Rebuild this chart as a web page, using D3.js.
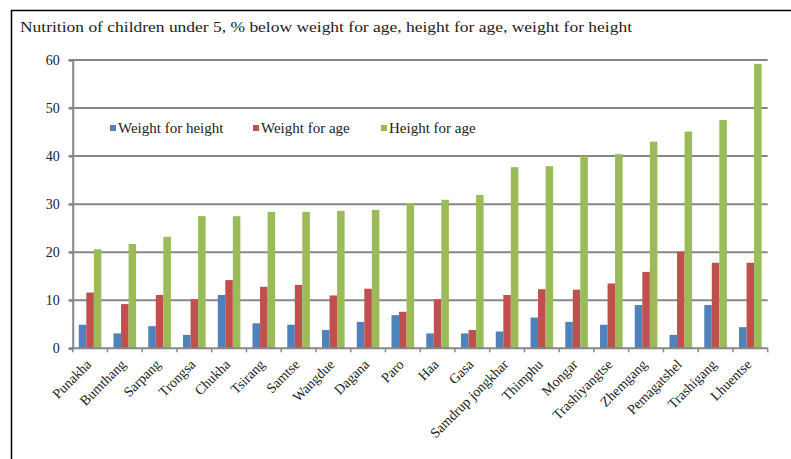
<!DOCTYPE html>
<html>
<head>
<meta charset="utf-8">
<script src="https://cdn.jsdelivr.net/npm/d3@7"></script>
<style>
  html, body { margin: 0; padding: 0; background: #fff; }
  svg { display: block; }
  text { font-family: "Liberation Serif", "DejaVu Serif", serif; fill: #222; }
</style>
</head>
<body>
<svg id="chart" width="791" height="459"></svg>
<script>
const categories = ["Punakha", "Bumthang", "Sarpang", "Trongsa", "Chukha", "Tsirang", "Samtse", "Wangdue", "Dagana", "Paro", "Haa", "Gasa", "Samdrup jongkhar", "Thimphu", "Mongar", "Trashiyangtse", "Zhemgang", "Pemagatshel", "Trashigang", "Lhuentse"];
const seriesNames = ["Weight for height", "Weight for age", "Height for age"];
const weightForHeight = [4.9, 3.1, 4.6, 2.8, 11.1, 5.2, 4.9, 3.8, 5.5, 6.9, 3.1, 3.1, 3.5, 6.4, 5.5, 4.9, 9.0, 2.8, 9.0, 4.4];
const weightForAge = [11.6, 9.2, 11.1, 10.2, 14.2, 12.8, 13.2, 11.0, 12.4, 7.6, 10.2, 3.8, 11.1, 12.3, 12.2, 13.5, 15.9, 20.1, 17.8, 17.8];
const heightForAge = [20.6, 21.7, 23.2, 27.5, 27.5, 28.4, 28.4, 28.6, 28.8, 30.2, 30.9, 31.9, 37.7, 37.9, 40.0, 40.4, 43.0, 45.1, 47.5, 59.2];
const yTicks = [0, 10, 20, 30, 40, 50, 60];
const colors = ["#4f81bd", "#c0504d", "#9bbb59"];
const titleText = "Nutrition of children under 5, % below weight for age, height for age, weight for height";

const seriesValues = [weightForHeight, weightForAge, heightForAge];
const svg = d3.select("#chart");

// frame
svg.append("line").attr("x1", 11).attr("x2", 791).attr("y1", 10.5).attr("y2", 10.5).attr("stroke", "#000").attr("stroke-width", 1.5);
svg.append("line").attr("x1", 11.5).attr("x2", 11.5).attr("y1", 10).attr("y2", 459).attr("stroke", "#000").attr("stroke-width", 1.5);

// title
svg.append("text").attr("x", 20).attr("y", 32).attr("font-size", 15.5).attr("fill", "#333")
  .attr("textLength", 612).attr("lengthAdjust", "spacingAndGlyphs").text(titleText);

const plotLeft = 72.7, plotRight = 767.7, plotTop = 60, plotBottom = 348.3;
const x0 = d3.scaleBand().domain(categories).range([plotLeft, plotRight]).paddingInner(0.35).paddingOuter(0.175);
const x1 = d3.scaleBand().domain(seriesNames).range([0, x0.bandwidth()]).padding(0);
const y = d3.scaleLinear().domain([0, 60]).range([plotBottom, plotTop]);

// gridlines
const grid = svg.append("g");
grid.selectAll("line").data(yTicks.filter(d => d > 0)).join("line")
  .attr("x1", plotLeft - 4).attr("x2", plotRight)
  .attr("y1", d => y(d)).attr("y2", d => y(d))
  .attr("stroke", "#878787").attr("stroke-width", 2);

// y axis
const yAxis = svg.append("g").attr("transform", `translate(${plotLeft},0)`)
  .call(d3.axisLeft(y).tickValues(yTicks).tickSize(4).tickPadding(9));
yAxis.select(".domain").attr("stroke", "#878787").attr("stroke-width", 2);
yAxis.selectAll(".tick line").attr("stroke", "#878787").attr("stroke-width", 2);
yAxis.selectAll("text").attr("font-size", 14).attr("fill", "#333").style("font-family", '"Liberation Serif", serif');

// bars
const groups = svg.append("g").selectAll("g").data(categories).join("g")
  .attr("transform", d => `translate(${x0(d)},0)`);
groups.selectAll("rect").data((d, i) => seriesNames.map((s, k) => ({ s, v: seriesValues[k][i], k })))
  .join("rect")
  .attr("x", d => x1(d.s))
  .attr("width", x1.bandwidth())
  .attr("y", d => y(d.v))
  .attr("height", d => y(0) - y(d.v))
  .attr("fill", d => colors[d.k]);

// x axis
const step = x0.step();
const xAxisG = svg.append("g").attr("transform", `translate(0,${plotBottom})`);
xAxisG.append("line").attr("x1", plotLeft - 4).attr("x2", plotRight).attr("stroke", "#878787").attr("stroke-width", 2);
const boundaries = d3.range(categories.length + 1).map(i => plotLeft + i * step);
xAxisG.selectAll("line.tk").data(boundaries).join("line").attr("class", "tk")
  .attr("x1", d => d).attr("x2", d => d).attr("y1", 0).attr("y2", 4)
  .attr("stroke", "#878787").attr("stroke-width", 1.5);
xAxisG.selectAll("text").data(categories).join("text")
  .attr("text-anchor", "end")
  .attr("font-size", 14)
  .attr("fill", "#333")
  .attr("transform", d => `translate(${x0(d) + x0.bandwidth() / 2 + 2},${17}) rotate(-45)`)
  .text(d => d);

// legend
const legendX = [110, 253, 381];
const legend = svg.append("g").selectAll("g").data(seriesNames).join("g")
  .attr("transform", (d, i) => `translate(${legendX[i]},128)`);
legend.append("rect").attr("x", 0).attr("y", -3).attr("width", 6).attr("height", 6).attr("fill", (d, i) => colors[i]);
legend.append("text").attr("x", 8).attr("y", 5).attr("font-size", 15).attr("fill", "#333").text(d => d);
</script>
</body>
</html>
